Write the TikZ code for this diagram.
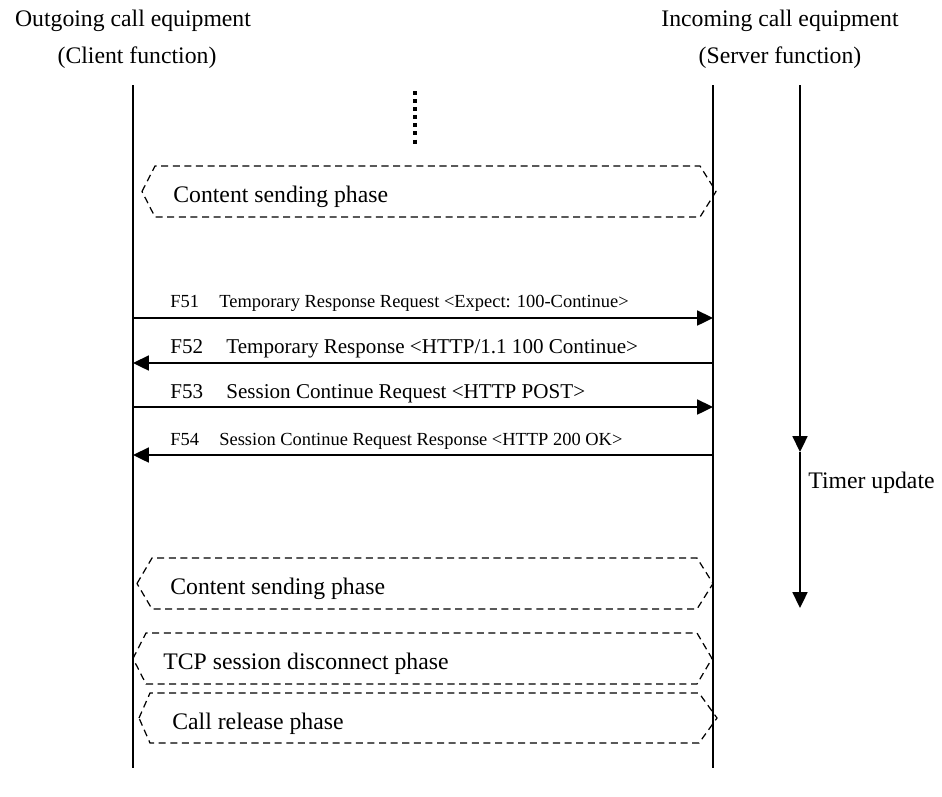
\documentclass[tikz,border=0pt]{standalone}
\usepackage{fontspec}
\setmainfont{Liberation Serif}
\usetikzlibrary{arrows.meta}

\begin{document}
\begin{tikzpicture}[x=0.02cm, y=-0.02cm,
                    every node/.style={inner sep=0pt, font=\fontsize{13.5}{16}\selectfont},
                    life/.style={line width=1pt},
                    msg/.style={line width=1.1pt, -{Triangle[length=9pt, width=8.5pt]}},
                    phase/.style={dash pattern=on 4pt off 2.6pt, line width=0.7pt},
                    big/.style={font=\fontsize{12}{14}\selectfont},
                    small/.style={font=\fontsize{10.5}{12}\selectfont}
                    ]
                    \useasboundingbox (0,0) rectangle (942,796);

                    \node[anchor=base] (cl) at (133,26) {Outgoing call equipment};
                    \node[anchor=base] (clf) at (137,63) {(Client function)};
                    \node[anchor=base] (sv) at (780,26) {Incoming call equipment};
                    \node[anchor=base] (svf) at (780,63) {(Server function)};

                    \coordinate (ctop) at (133,85);
                    \coordinate (cbot) at (133,768);
                    \coordinate (stop) at (713,85);
                    \coordinate (sbot) at (713,768);
                    \draw[life] (ctop) -- (cbot);
                    \draw[life] (stop) -- (sbot);

                    % omitted sequence
                    \coordinate (d1) at (415,91);
                    \coordinate (d2) at (415,146);
                    \draw[line width=2.3pt, dash pattern=on 2.3pt off 2.3pt] (d1) -- (d2);

                    % phases
                    \foreach \t/\b/\lp/\lc/\rc/\rp/\tx/\name/\txt in {
                        166/217/142/155/700/716/173/p1/Content sending phase,
                        558/609/137/152/697/713/170/p2/Content sending phase,
                        633/684/133/146/697/712/163/p3/TCP session disconnect phase,
                        693/743/139/150/699/717/172/p4/Call release phase}{
                        \draw[phase] (\lp,{(\t+\b)/2}) -- (\lc,\t) -- (\rc,\t) -- (\rp,{(\t+\b)/2}) -- (\rc,\b) -- (\lc,\b) -- cycle;
                        \node[anchor=base west] (\name) at (\tx,\t+36) {\txt};
                    }

                    % messages
                    \foreach \n/\y in {51/318,52/363,53/407,54/455}{
                        \coordinate (c\n) at (133,\y);
                        \coordinate (s\n) at (713,\y);
                    }
                    \foreach \i/\j in {c51/s51,s52/c52,c53/s53,s54/c54}{
                        \draw[msg] (\i) -- (\j);
                    }
                    \node[small, anchor=base west] (l51) at (170,307) {F51\hspace{1.1em}Temporary Response Request <Expect: 100-Continue>};
                    \node[big, anchor=base west] (l52) at (170,353) {F52\hspace{1.1em}Temporary Response <HTTP/1.1 100 Continue>};
                    \node[big, anchor=base west] (l53) at (170,398) {F53\hspace{1.1em}Session Continue Request <HTTP POST>};
                    \node[small, anchor=base west] (l54) at (170,445) {F54\hspace{1.1em}Session Continue Request Response <HTTP 200 OK>};

                    % timer
                    \coordinate (ttop) at (800,85);
                    \coordinate (tmid) at (800,452);
                    \coordinate (tbot) at (800,608);
                    \draw[msg, line width=1pt] (ttop) -- (tmid);
                    \draw[msg, line width=1pt] (tmid) -- (tbot);
                    \node[anchor=base west] (tu) at (808,488) {Timer update};
                \end{tikzpicture}
\end{document}
